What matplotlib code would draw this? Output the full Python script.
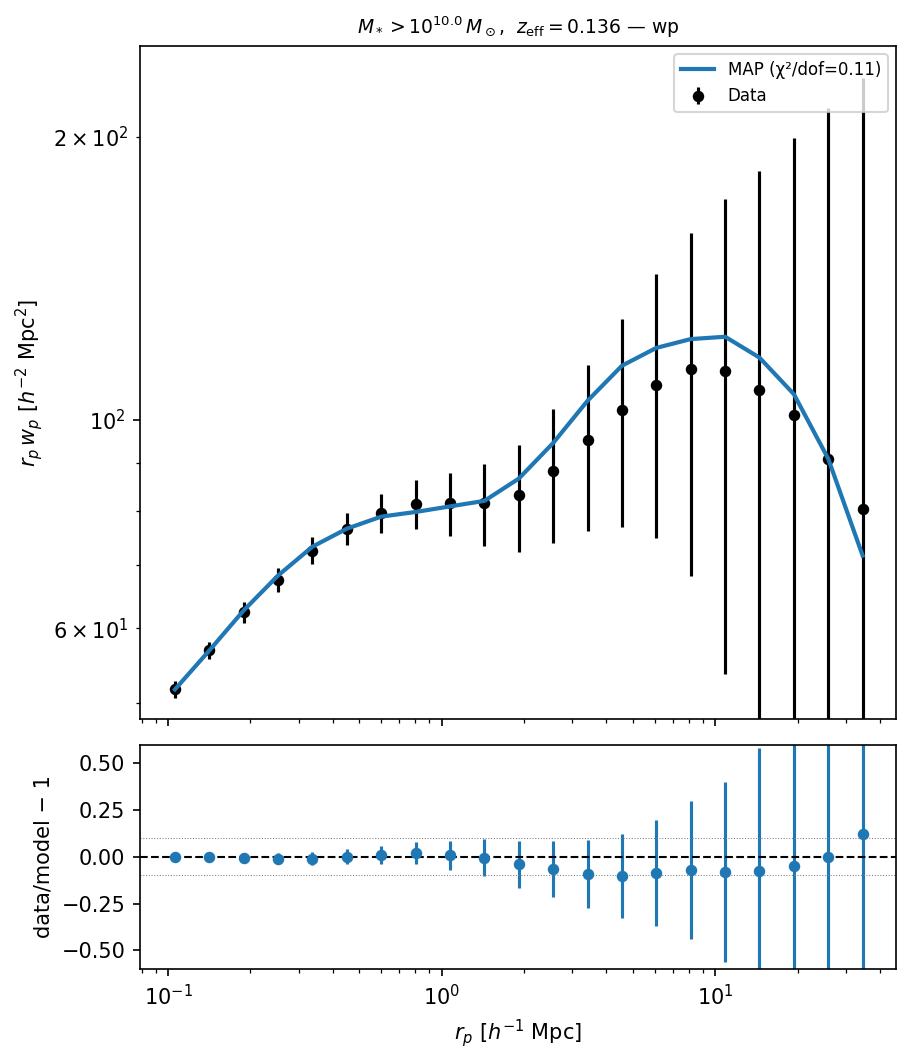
import matplotlib.pyplot as plt
import numpy as np

# projected separation bins [h^-1 Mpc]
rp = np.array([0.1059, 0.1415, 0.1889, 0.2523, 0.3370, 0.4501, 0.6012, 0.8029,
               1.0727, 1.4328, 1.9135, 2.5557, 3.4138, 4.560, 6.090, 8.134,
               10.87, 14.51, 19.39, 25.90, 34.59])

# r_p * w_p data and errors
rpwp = np.array([51.66, 56.84, 62.41, 67.6, 72.6, 76.6, 79.6, 81.4, 81.6, 81.6,
                 83.2, 88.3, 95.2, 102.4, 108.9, 113.2, 112.7, 107.6, 101.2,
                 90.9, 80.4])
rpwp_err = np.array([1.1, 1.25, 1.6, 1.95, 2.4, 3.05, 3.75, 4.85, 6.3, 8.15,
                     10.85, 14.3, 19.1, 25.5, 34.0, 45.0, 59.0, 76.6, 98.5,
                     123.6, 150.7])

# MAP model
rpwp_model = np.array([51.66, 56.84, 62.7, 68.3, 73.3, 76.6, 78.9, 79.8, 80.9,
                       82.0, 86.6, 94.5, 104.8, 114.2, 119.3, 121.9, 122.6,
                       116.5, 106.5, 90.9, 71.7])

resid = rpwp / rpwp_model - 1
resid_err = rpwp_err / rpwp_model

fig, (ax, axr) = plt.subplots(2, 1, sharex=True, figsize=(911/150, 1062/150), dpi=150,
                              gridspec_kw={'height_ratios': [3, 1]})
fig.subplots_adjust(left=140/911, right=896/911, top=1-46/1062, bottom=1-969/1062,
                    hspace=0.056)

ax.plot(rp, rpwp_model, color='C0', lw=2, label='MAP (χ²/dof=0.11)', zorder=3)
ax.errorbar(rp, rpwp, yerr=rpwp_err, fmt='o', color='k', ms=4.5, elinewidth=1.5,
            label='Data', zorder=2)
ax.set_xscale('log')
ax.set_yscale('log')
ax.set_ylim(48, 250)
ax.set_ylabel(r'$r_p\,w_p$ [$h^{-2}$ Mpc$^2$]')
ax.set_title(r'$M_* > 10^{10.0}\,M_\odot$,  $z_{\rm eff} = 0.136$ — wp', fontsize=9)
ax.legend(loc='upper right', fontsize=8)

axr.errorbar(rp, resid, yerr=resid_err, fmt='o', color='C0', ms=4.5, elinewidth=1.5)
axr.axhline(0, color='k', ls='--', lw=1)
axr.axhline(0.1, color='gray', ls=':', lw=0.5)
axr.axhline(-0.1, color='gray', ls=':', lw=0.5)
axr.set_ylim(-0.6, 0.6)
axr.set_xlim(0.0789, 45.8)
axr.set_ylabel('data/model − 1')
axr.set_xlabel(r'$r_p$ [$h^{-1}$ Mpc]')

plt.savefig('out.png', dpi=150)
